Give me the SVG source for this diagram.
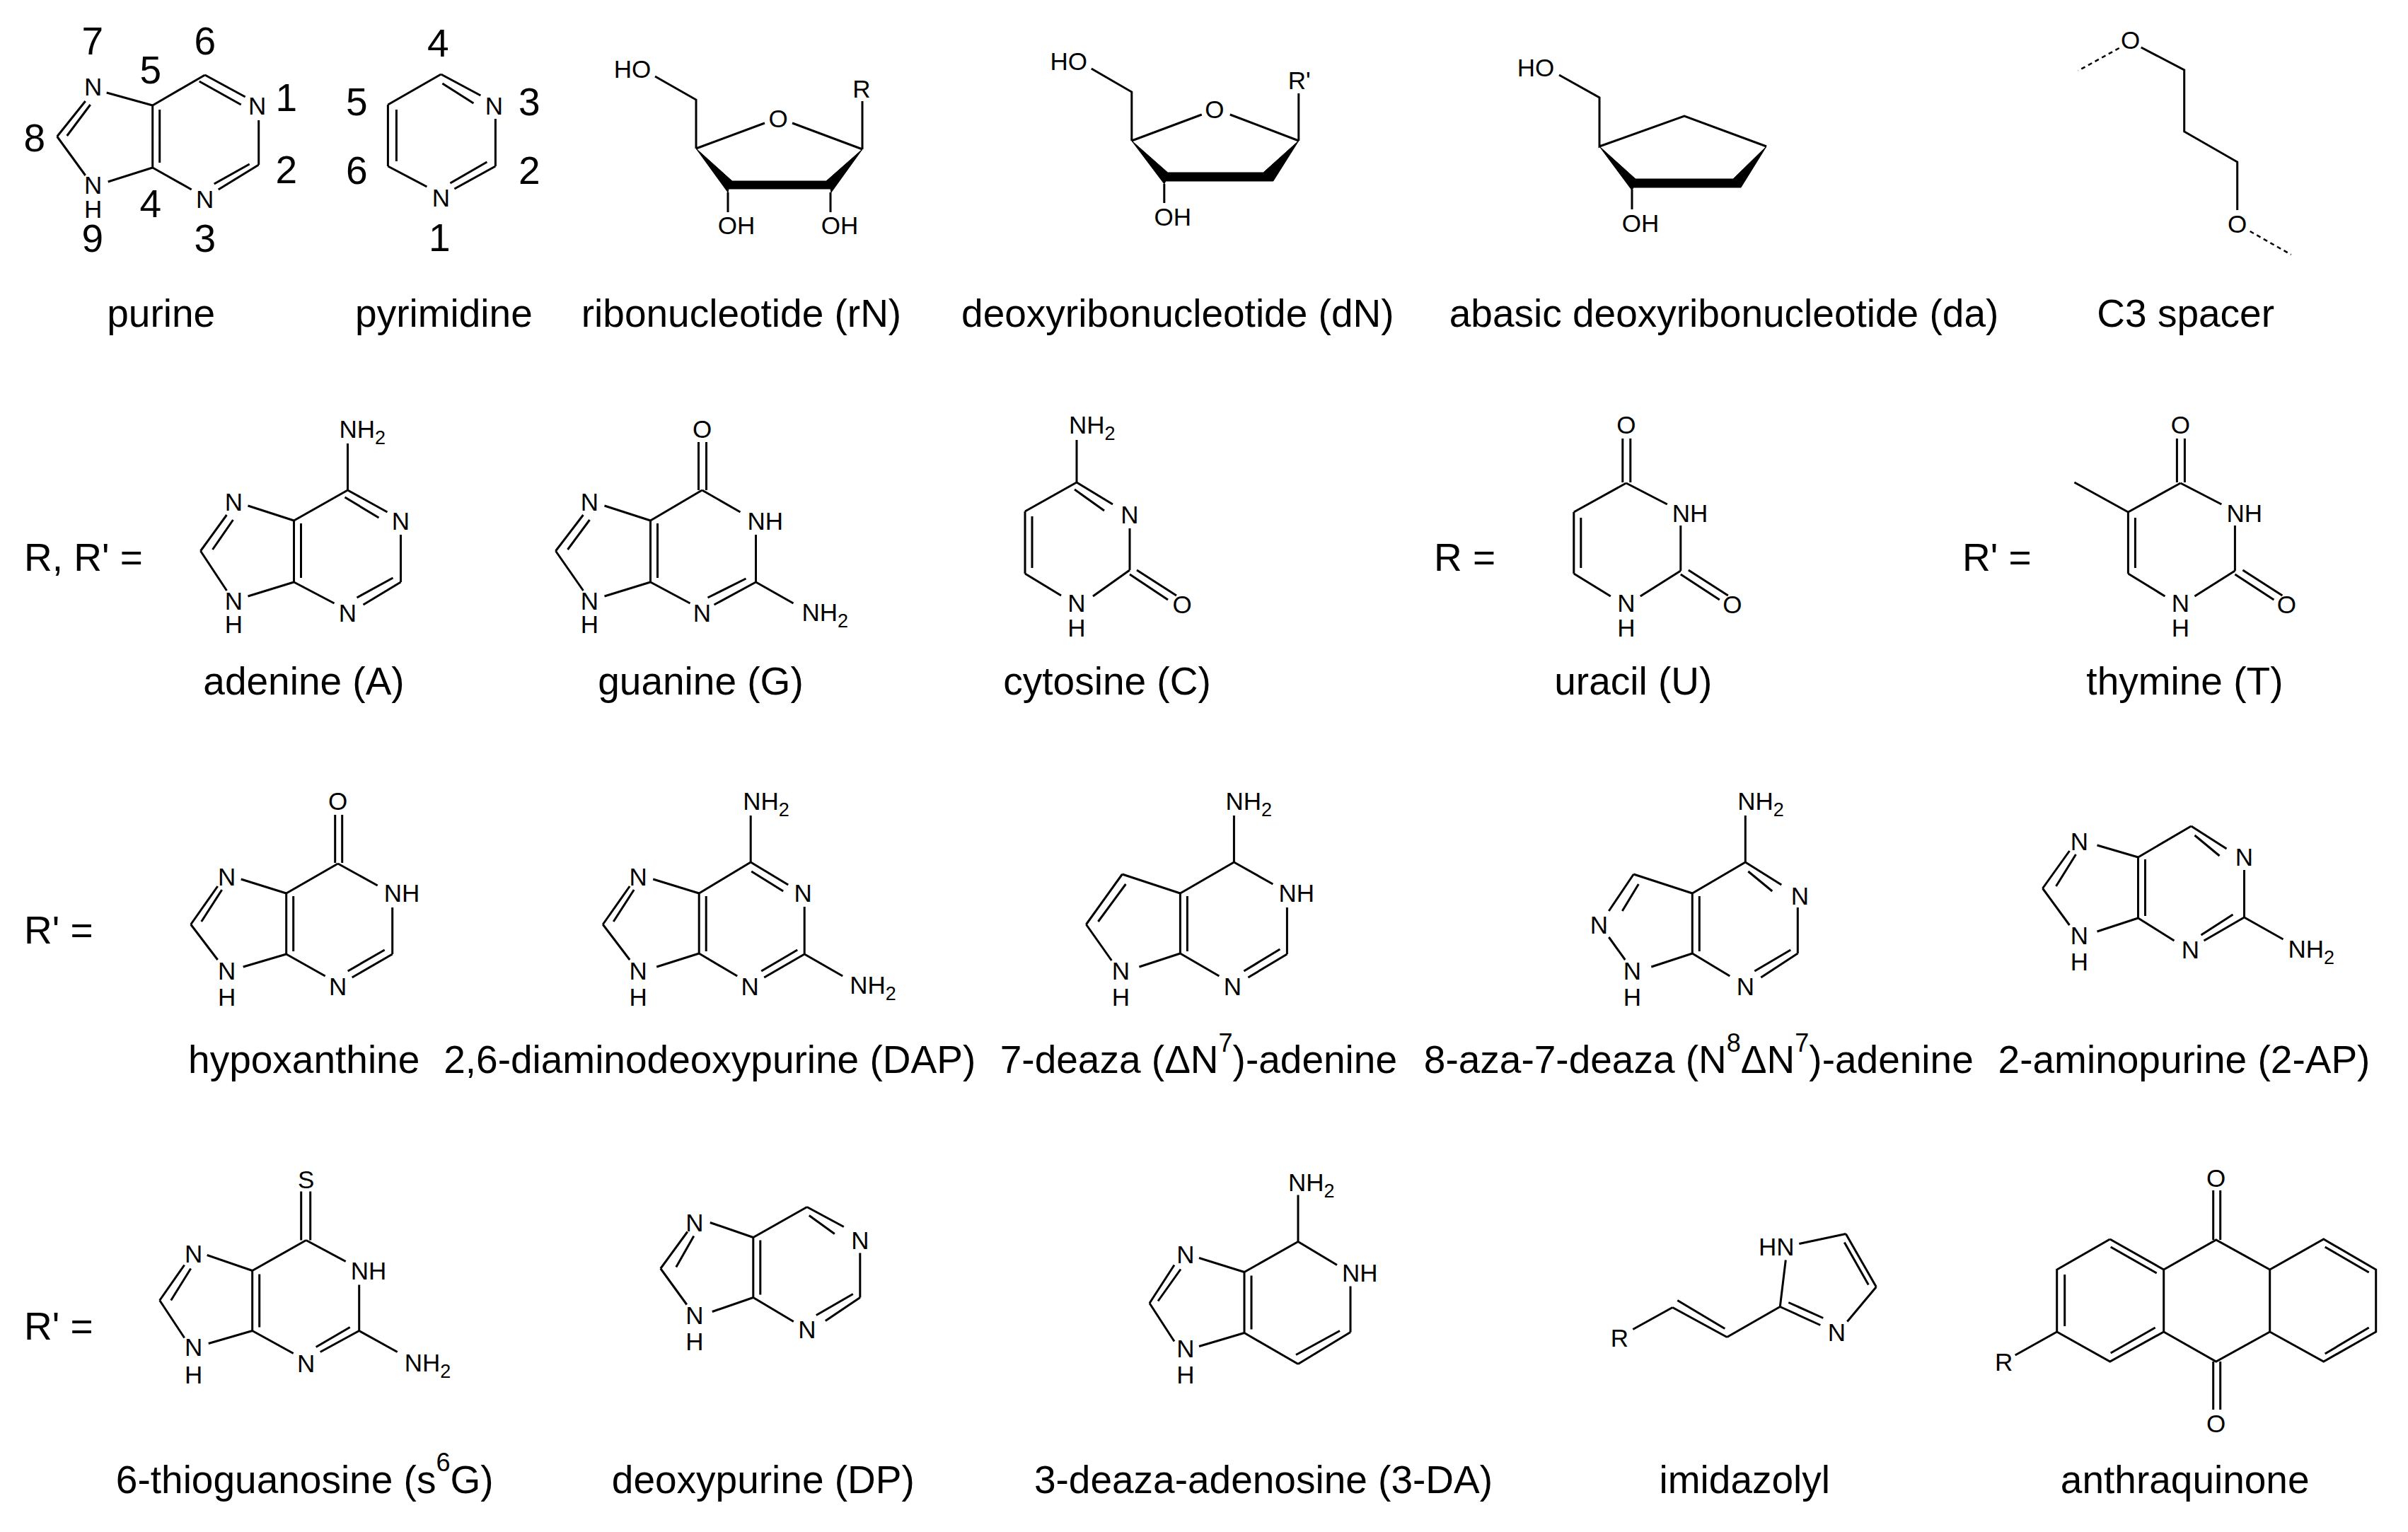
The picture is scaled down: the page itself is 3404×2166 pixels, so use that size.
<svg xmlns="http://www.w3.org/2000/svg" width="3404" height="2166" viewBox="0 0 3404 2166">
<style>
text{font-family:"Liberation Sans",Arial,sans-serif;fill:#000}
.b{fill:none;stroke:#000;stroke-width:3}
.w{fill:#000;stroke:#000;stroke-width:1}
.d{fill:none;stroke:#000;stroke-width:2.5;stroke-dasharray:6 5}
.a{font-size:35px;text-anchor:middle}
.s{font-size:35px}
.u{font-size:27px}
.n{font-size:55px;text-anchor:middle}
.c{font-size:55px;text-anchor:middle}
.e{font-size:55px}
.p{font-size:36px}
</style>
<rect width="3404" height="2166" fill="#fff"/>

<g id="purine" transform="translate(-1.3 0)">
<path class="b" d="M217 149L217 237M227 155L227 230M217 149L291 106M291 106L348 137M283 115L342 148M367 170L367 233M367 233L310 268M354 232L304 260M272 268L217 237M217 237L154 257M122 248L82 193M82 193L122 143M96 192L129 148M152 131L217 149"/>
<text class="a" x="133" y="135">N</text><text class="a" x="365" y="162">N</text><text class="a" x="291" y="294">N</text><text class="a" x="133" y="274">N</text><text class="a" x="133" y="308">H</text>
<text class="n" x="132" y="77">7</text><text class="n" x="291" y="77">6</text><text class="n" x="214" y="118">5</text><text class="n" x="406" y="157">1</text><text class="n" x="50" y="214">8</text><text class="n" x="406" y="259">2</text><text class="n" x="214" y="307">4</text><text class="n" x="132" y="356">9</text><text class="n" x="291" y="356">3</text>
<text class="c" x="229" y="462">purine</text>
</g>

<g id="pyrimidine" transform="translate(-3.6 0)">
<path class="b" d="M627 105L552 148M627 105L683 135M629 118L673 146M704 168L704 235M704 235L646 267M692 229L640 259M607 264L552 235M552 148L552 235M564 155L564 228"/>
<text class="a" x="702" y="162">N</text><text class="a" x="627" y="292">N</text>
<text class="n" x="623" y="80">4</text><text class="n" x="508" y="163">5</text><text class="n" x="752" y="163">3</text><text class="n" x="508" y="260">6</text><text class="n" x="752" y="260">2</text><text class="n" x="625" y="355">1</text>
<text class="c" x="631" y="462">pyrimidine</text>
</g>

<g id="ribonucleotide" transform="translate(-6 0)">
<path class="b" d="M932 108L990 141L990 210M990 210L1087 174M1126 174L1225 211M1225 211L1225 143M1035 272L1035 300M1180 272L1180 300"/>
<path class="w" d="M990 210L1041 256L1174 256L1225 211L1181 272L1180 267L1036 267L1035 272Z"/>
<text class="a" x="900" y="110">HO</text><text class="a" x="1106" y="180">O</text><text class="a" x="1224" y="138">R</text><text class="a" x="1047" y="331">OH</text><text class="a" x="1193" y="331">OH</text>
<text class="c" x="1054" y="462">ribonucleotide (rN)</text>
</g>

<g id="deoxyribonucleotide" transform="translate(-2.2 0)">
<path class="b" d="M1545 97L1602 130L1602 199M1602 199L1701 162M1741 162L1838 199M1838 199L1838 132M1648 260L1648 287"/>
<path class="w" d="M1602 199L1653 244L1788 244L1838 199L1802 256L1650 256L1648 260Z"/>
<text class="a" x="1513" y="99">HO</text><text class="a" x="1719" y="167">O</text><text class="a" x="1839" y="126">R'</text><text class="a" x="1660" y="319">OH</text>
<text class="c" x="1667" y="462">deoxyribonucleotide (dN)</text>
</g>

<g id="abasic" transform="translate(-6 0)">
<path class="b" d="M2210 106L2267 138L2267 207L2387 164L2503 207M2313 268L2313 296"/>
<path class="w" d="M2267 207L2318 253L2456 253L2503 207L2467 265L2315 265L2313 269Z"/>
<text class="a" x="2177" y="108">HO</text><text class="a" x="2325" y="328">OH</text>
<text class="c" x="2443" y="462">abasic deoxyribonucleotide (da)</text>
</g>

<g id="c3spacer" transform="translate(-10.3 0)">
<path class="b" d="M3037 67L3098 99L3098 186L3173 229L3173 297"/>
<path class="d" d="M3006 68L2948 100M3191 327L3249 360"/>
<text class="a" x="3022" y="69">O</text><text class="a" x="3173" y="329">O</text>
<text class="c" x="3100" y="462">C3 spacer</text>
</g>

<text id="label-r-rp" class="e" x="34" y="807">R, R' =</text>

<g id="adenine" transform="translate(-2.5 0)">
<path class="b" d="M494 627L494 693M494 693L418 736M494 693L550 724M490 703L538 732M569 756L569 823M569 823L516 855M558 817L507 845M475 853L418 823M418 823L418 736M428 740L428 817M418 823L353 843M323 835L286 779M286 779L323 728M303 777L332 735M353 715L418 736"/>
<text class="s" x="482" y="619">NH<tspan class="u" dy="9">2</tspan></text>
<text class="a" x="333" y="722">N</text><text class="a" x="569" y="749">N</text><text class="a" x="494" y="879">N</text><text class="a" x="333" y="862">N</text><text class="a" x="333" y="895">H</text>
<text class="c" x="432" y="982">adenine (A)</text>
</g>

<g id="guanine" transform="translate(-5.5 0)">
<path class="b" d="M993 625L993 693M1004 625L1004 693M998 693L925 736M998 693L1052 724M1074 756L1074 823M1074 823L1015 855M1060 818L1006 845M981 853L925 823M925 823L925 736M935 740L935 817M925 823L860 843M830 835L791 779M791 779L830 728M808 777L839 735M860 715L925 736M1074 823L1127 853"/>
<text class="a" x="998" y="619">O</text><text class="s" x="1062" y="749">NH</text><text class="a" x="839" y="722">N</text><text class="a" x="998" y="879">N</text><text class="a" x="839" y="862">N</text><text class="a" x="839" y="895">H</text>
<text class="s" x="1139" y="878">NH<tspan class="u" dy="9">2</tspan></text>
<text class="c" x="996" y="982">guanine (G)</text>
</g>

<g id="cytosine" transform="translate(-9 0)">
<path class="b" d="M1531 622L1531 682M1531 682L1458 723M1531 682L1582 713M1528 692L1570 722M1606 747L1606 806M1606 806L1554 843M1509 842L1458 811M1458 723L1458 811M1468 730L1468 803M1606 812L1660 848M1616 806L1672 842"/>
<text class="s" x="1520" y="613">NH<tspan class="u" dy="9">2</tspan></text>
<text class="a" x="1606" y="740">N</text><text class="a" x="1531" y="865">N</text><text class="a" x="1531" y="900">H</text><text class="a" x="1680" y="867">O</text>
<text class="c" x="1574" y="982">cytosine (C)</text>
</g>

<text id="label-r" class="e" x="2027" y="807">R =</text>

<g id="uracil" transform="translate(-3.2 0)">
<path class="b" d="M2297 620L2297 682M2308 620L2308 682M2302 683L2228 724M2302 683L2360 713M2379 743L2379 807M2379 807L2322 843M2280 843L2228 811M2228 724L2228 811M2238 732L2238 803M2379 812L2434 848M2390 806L2446 842"/>
<text class="a" x="2302" y="613">O</text><text class="s" x="2367" y="738">NH</text><text class="a" x="2302" y="865">N</text><text class="a" x="2302" y="900">H</text><text class="a" x="2452" y="867">O</text>
<text class="c" x="2312" y="982">uracil (U)</text>
</g>

<text id="label-rp" class="e" x="2774" y="807">R' =</text>

<g id="thymine" transform="translate(-7.6 0)">
<path class="b" d="M3085 620L3085 682M3096 620L3096 682M3090 683L3016 724M3090 683L3148 713M3167 743L3167 807M3167 807L3110 843M3068 843L3016 811M3016 724L3016 811M3026 732L3026 803M3167 812L3222 848M3178 806L3234 842M2940 682L3016 724"/>
<text class="a" x="3090" y="613">O</text><text class="s" x="3155" y="738">NH</text><text class="a" x="3090" y="865">N</text><text class="a" x="3090" y="900">H</text><text class="a" x="3240" y="867">O</text>
<text class="c" x="3096" y="982">thymine (T)</text>
</g>

<text id="label-rp-3" class="e" x="34" y="1334">R' =</text>

<g id="hypoxanthine" transform="translate(-2.3 0)">
<path class="b" d="M476 1152L476 1220M486 1152L486 1220M480 1221L407 1263M480 1221L536 1252M557 1283L557 1349M557 1349L500 1382M546 1343L494 1373M462 1380L407 1349M407 1349L407 1263M417 1267L417 1345M407 1349L346 1367M310 1357L272 1307M272 1307L310 1253M287 1303L316 1258M343 1243L407 1263"/>
<text class="a" x="480" y="1145">O</text><text class="s" x="545" y="1275">NH</text><text class="a" x="323" y="1252">N</text><text class="a" x="480" y="1407">N</text><text class="a" x="323" y="1385">N</text><text class="a" x="323" y="1422">H</text>
<text class="c" x="432" y="1517">hypoxanthine</text>
</g>

<g id="dap" transform="translate(-5.8 0)">
<path class="b" d="M1067 1153L1067 1219M1067 1219L994 1263M1067 1219L1120 1251M1068 1232L1113 1260M1143 1282L1143 1349M1143 1349L1086 1382M1133 1343L1082 1373M1048 1380L994 1348M994 1348L994 1263M1004 1267L1004 1345M994 1348L934 1367M896 1357L858 1307M858 1307L896 1253M873 1303L902 1258M929 1243L994 1263M1143 1349L1197 1380"/>
<text class="s" x="1056" y="1145">NH<tspan class="u" dy="9">2</tspan></text>
<text class="a" x="1141" y="1275">N</text><text class="a" x="908" y="1252">N</text><text class="a" x="1066" y="1407">N</text><text class="a" x="908" y="1385">N</text><text class="a" x="908" y="1422">H</text>
<text class="s" x="1207" y="1405">NH<tspan class="u" dy="9">2</tspan></text>
<text class="c" x="1009" y="1517">2,6-diaminodeoxypurine (DAP)</text>
</g>

<g id="deaza7" transform="translate(-1.6 0)">
<path class="b" d="M1746 1153L1746 1219M1746 1219L1670 1263M1746 1219L1801 1250M1821 1283L1821 1349M1821 1349L1766 1382M1811 1342L1760 1373M1725 1380L1670 1348M1670 1348L1670 1263M1680 1267L1680 1345M1670 1348L1612 1367M1573 1358L1537 1307M1537 1307L1588 1236M1554 1303L1593 1250M1588 1236L1670 1263"/>
<text class="s" x="1734" y="1145">NH<tspan class="u" dy="9">2</tspan></text>
<text class="s" x="1809" y="1275">NH</text><text class="a" x="1744" y="1407">N</text><text class="a" x="1586" y="1385">N</text><text class="a" x="1586" y="1422">H</text>
<text class="c" x="1696" y="1517">7-deaza (ΔN<tspan class="p" dy="-30">7</tspan><tspan dy="30">)-adenine</tspan></text>
</g>

<g id="aza8deaza7" transform="translate(-5.7 0)">
<path class="b" d="M2473 1153L2473 1219M2473 1219L2398 1263M2473 1219L2524 1251M2477 1232L2511 1260M2547 1283L2547 1348M2547 1348L2495 1382M2537 1343L2486 1373M2451 1380L2398 1348M2398 1348L2398 1263M2408 1267L2408 1345M2398 1348L2340 1367M2303 1357L2280 1325M2280 1288L2315 1236M2299 1288L2322 1250M2315 1236L2398 1263"/>
<text class="s" x="2462" y="1145">NH<tspan class="u" dy="9">2</tspan></text>
<text class="a" x="2550" y="1279">N</text><text class="a" x="2266" y="1320">N</text><text class="a" x="2473" y="1407">N</text><text class="a" x="2313" y="1385">N</text><text class="a" x="2313" y="1422">H</text>
<text class="c" x="2407" y="1517">8-aza-7-deaza (N<tspan class="p" dy="-30">8</tspan><tspan dy="30">ΔN</tspan><tspan class="p" dy="-30">7</tspan><tspan dy="30">)-adenine</tspan></text>
</g>

<g id="aminopurine2" transform="translate(-9.5 0)">
<path class="b" d="M3107 1168L3032 1212M3107 1168L3157 1200M3112 1181L3147 1210M3182 1230L3182 1297M3182 1297L3125 1330M3166 1293L3121 1322M3083 1330L3032 1298M3032 1298L3032 1212M3042 1215L3042 1295M3032 1298L2974 1317M2935 1308L2897 1256M2897 1256L2935 1203M2916 1253L2944 1208M2974 1195L3032 1212M3182 1297L3237 1328"/>
<text class="a" x="3182" y="1224">N</text><text class="a" x="2949" y="1202">N</text><text class="a" x="3106" y="1355">N</text><text class="a" x="2949" y="1335">N</text><text class="a" x="2949" y="1372">H</text>
<text class="s" x="3244" y="1354">NH<tspan class="u" dy="9">2</tspan></text>
<text class="c" x="3097" y="1517">2-aminopurine (2-AP)</text>
</g>

<text id="label-rp-4" class="e" x="34" y="1894">R' =</text>

<g id="thioguanosine" transform="translate(-2.3 1.5)">
<path class="b" d="M428 1683L428 1752M441 1683L441 1752M435 1752L359 1795M435 1752L491 1782M510 1815L510 1880M510 1880L455 1910M497 1875L449 1903M417 1912L359 1880M359 1880L359 1795M369 1800L369 1875M359 1880L297 1898M263 1890L228 1837M228 1837L263 1787M244 1837L272 1792M295 1773L359 1795M510 1880L564 1910"/>
<text class="a" x="435" y="1678">S</text><text class="s" x="498" y="1807">NH</text><text class="a" x="276" y="1783">N</text><text class="a" x="435" y="1938">N</text><text class="a" x="276" y="1915">N</text><text class="a" x="276" y="1954">H</text>
<text class="s" x="574" y="1937">NH<tspan class="u" dy="9">2</tspan></text>
<text class="c" x="433" y="2109.5">6-thioguanosine (s<tspan class="p" dy="-31">6</tspan><tspan dy="31">G)</tspan></text>
</g>

<g id="deoxypurine" transform="translate(-6.2 1.5)">
<path class="b" d="M1147 1705L1071 1748M1147 1705L1199 1733M1150 1717L1186 1743M1222 1770L1222 1833M1222 1833L1173 1866M1212 1828L1160 1858M1128 1867L1071 1833M1071 1833L1071 1748M1081 1752L1081 1829M1071 1833L1013 1853M977 1843L940 1792M940 1792L978 1740M962 1790L987 1746M1010 1727L1071 1748"/>
<text class="a" x="1222" y="1764">N</text><text class="a" x="988" y="1739">N</text><text class="a" x="1147" y="1890">N</text><text class="a" x="988" y="1870">N</text><text class="a" x="988" y="1907">H</text>
<text class="c" x="1085" y="2109.5">deoxypurine (DP)</text>
</g>

<g id="deaza3" transform="translate(-10 1.5)">
<path class="b" d="M1845 1688L1845 1754M1845 1754L1769 1797M1845 1754L1900 1787M1919 1817L1919 1882M1919 1882L1845 1927M1904 1880L1842 1914M1845 1927L1769 1883M1769 1883L1769 1797M1779 1802L1779 1878M1769 1883L1705 1902M1670 1895L1635 1841M1635 1841L1670 1787M1647 1838L1679 1793M1705 1777L1769 1797"/>
<text class="s" x="1831" y="1682">NH<tspan class="u" dy="9">2</tspan></text>
<text class="s" x="1907" y="1810">NH</text><text class="a" x="1686" y="1784">N</text><text class="a" x="1686" y="1917">N</text><text class="a" x="1686" y="1954">H</text>
<text class="c" x="1796" y="2109.5">3-deaza-adenosine (3-DA)</text>
</g>

<g id="imidazolyl" transform="translate(-2.7 1.5)">
<path class="b" d="M2311 1878L2367 1847M2367 1847L2444 1889M2374 1837L2441 1877M2444 1889L2519 1846M2519 1846L2576 1872M2531 1840L2580 1862M2614 1867L2655 1818M2655 1818L2612 1743M2644 1815L2610 1755M2612 1743L2546 1757M2527 1780L2519 1846"/>
<text class="a" x="2292" y="1902">R</text><text class="a" x="2599" y="1894">N</text><text class="a" x="2514" y="1773">HN</text>
<text class="c" x="2469" y="2109.5">imidazolyl</text>
</g>

<g id="anthraquinone" transform="translate(-6.3 0)">
<path class="b" d="M3135 1683L3135 1753M3145 1683L3145 1753M3135 1925L3135 1993M3145 1925L3145 1993M3065 1795L3139 1753L3215 1795M3065 1883L3139 1925L3215 1883M3065 1795L3065 1883M3215 1795L3215 1883M2989 1752L3065 1795M2990 1763L3055 1800M2989 1752L2914 1795L2914 1883M2925 1802L2925 1875M2914 1883L2989 1925L3065 1883M2990 1913L3053 1877M3215 1795L3291 1752L3365 1795L3365 1883L3291 1925L3215 1883M3293 1763L3355 1799M3293 1914L3355 1877M2914 1883L2855 1916"/>
<text class="a" x="3139" y="1678">O</text><text class="a" x="3139" y="2025">O</text><text class="a" x="2839" y="1938">R</text>
<text class="c" x="3095" y="2111">anthraquinone</text>
</g>
</svg>
